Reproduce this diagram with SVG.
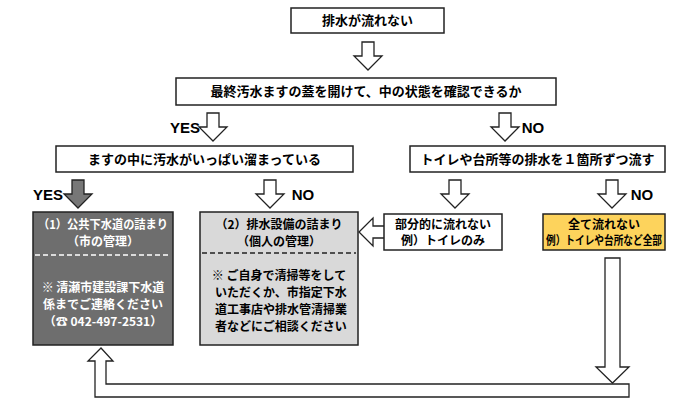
<svg xmlns="http://www.w3.org/2000/svg" width="690" height="405" viewBox="0 0 690 405">
<style>
text{font-family:"Noto Sans CJK JP","Liberation Sans",sans-serif;font-weight:bold;font-size:13px;text-anchor:middle;fill:#000}
.box{fill:#fff;stroke:#222;stroke-width:1.5}
.arr{fill:#fff;stroke:#222;stroke-width:1.3}
.garr{fill:#777;stroke:#222;stroke-width:1.3}
.yn{font-family:"Liberation Sans",sans-serif;font-size:15px}
.w{fill:#fff}
.s{font-size:12px}
</style>
<defs>
<path id="dn" d="M-6,0 H6 V14 H14 L0,28 L-14,14 H-6 Z"/>
</defs>
<rect width="690" height="405" fill="#fff"/>
<g id="connectors">
<use href="#dn" class="arr" x="368" y="42"/>
<use href="#dn" class="arr" x="213" y="113"/>
<use href="#dn" class="arr" x="505" y="113"/>
<use href="#dn" class="garr" x="78" y="180"/>
<use href="#dn" class="arr" x="270" y="180"/>
<use href="#dn" class="arr" x="455" y="180"/>
<use href="#dn" class="arr" x="612" y="180"/>
<path class="arr" d="M385,226 H373 V218 L359,232 L373,246 V238 H385 Z"/>
<path class="arr" d="M605,258 H620 V367 H629 L612.5,383 L596,367 H605 Z"/>
<path class="arr" d="M629,384 V397 H95 V361 H88 L101,348 L113,361 H106 V384 Z"/>
<text x="185" y="133" class="yn">YES</text>
<text x="533" y="133" class="yn">NO</text>
<text x="48" y="200" class="yn">YES</text>
<text x="303" y="200" class="yn">NO</text>
<text x="642" y="200" class="yn">NO</text>
</g>
<g id="n1"><rect class="box" x="291" y="8" width="153" height="25"/><text x="367.5" y="25">排水が流れない</text></g>
<g id="n2"><rect class="box" x="176" y="78" width="380" height="27"/><text x="366" y="96">最終汚水ますの蓋を開けて、中の状態を確認できるか</text></g>
<g id="n3"><rect class="box" x="56" y="146" width="297" height="26"/><text x="204.5" y="164">ますの中に汚水がいっぱい溜まっている</text></g>
<g id="n4"><rect class="box" x="410" y="146" width="255" height="26"/><text x="537.5" y="164">トイレや台所等の排水を１箇所ずつ流す</text></g>
<g id="n5"><rect x="33" y="212" width="140" height="133" fill="#6e6e6e" stroke="#222" stroke-width="1.5"/>
<line x1="35" y1="255" x2="171" y2="255" stroke="#fff" stroke-width="1.5" stroke-dasharray="5,3"/>
<text class="w s" x="103" y="229" textLength="130" lengthAdjust="spacingAndGlyphs">（1）公共下水道の詰まり</text>
<text class="w s" x="103" y="246">（市の管理）</text>
<text class="w s" x="103" y="292">※ 清瀬市建設課下水道</text>
<text class="w s" x="103" y="309">係までご連絡ください</text>
<text class="w s" x="103" y="326">（☎ 042-497-2531）</text></g>
<g id="n6"><rect x="200" y="212" width="158" height="133" fill="#d9d9d9" stroke="#222" stroke-width="1.5"/>
<line x1="202" y1="253" x2="356" y2="253" stroke="#222" stroke-width="1.5" stroke-dasharray="5,3"/>
<text class="s" x="279" y="229">（2）排水設備の詰まり</text>
<text class="s" x="279" y="246">（個人の管理）</text>
<text class="s" x="279" y="280">※ ご自身で清掃等をして</text>
<text class="s" x="281" y="297">いただくか、市指定下水</text>
<text class="s" x="281" y="314">道工事店や排水管清掃業</text>
<text class="s" x="281" y="331">者などにご相談ください</text></g>
<g id="n7"><rect class="box" x="384" y="214" width="118" height="36"/><text class="s" x="443" y="229">部分的に流れない</text><text class="s" x="443" y="245">例）トイレのみ</text></g>
<g id="n8"><rect x="543" y="214" width="122" height="36" fill="#fdd35c" stroke="#222" stroke-width="1.5"/><text class="s" x="604" y="229">全て流れない</text><text class="s" x="604" y="245" textLength="116" lengthAdjust="spacingAndGlyphs">例）トイレや台所など全部</text></g>
</svg>
